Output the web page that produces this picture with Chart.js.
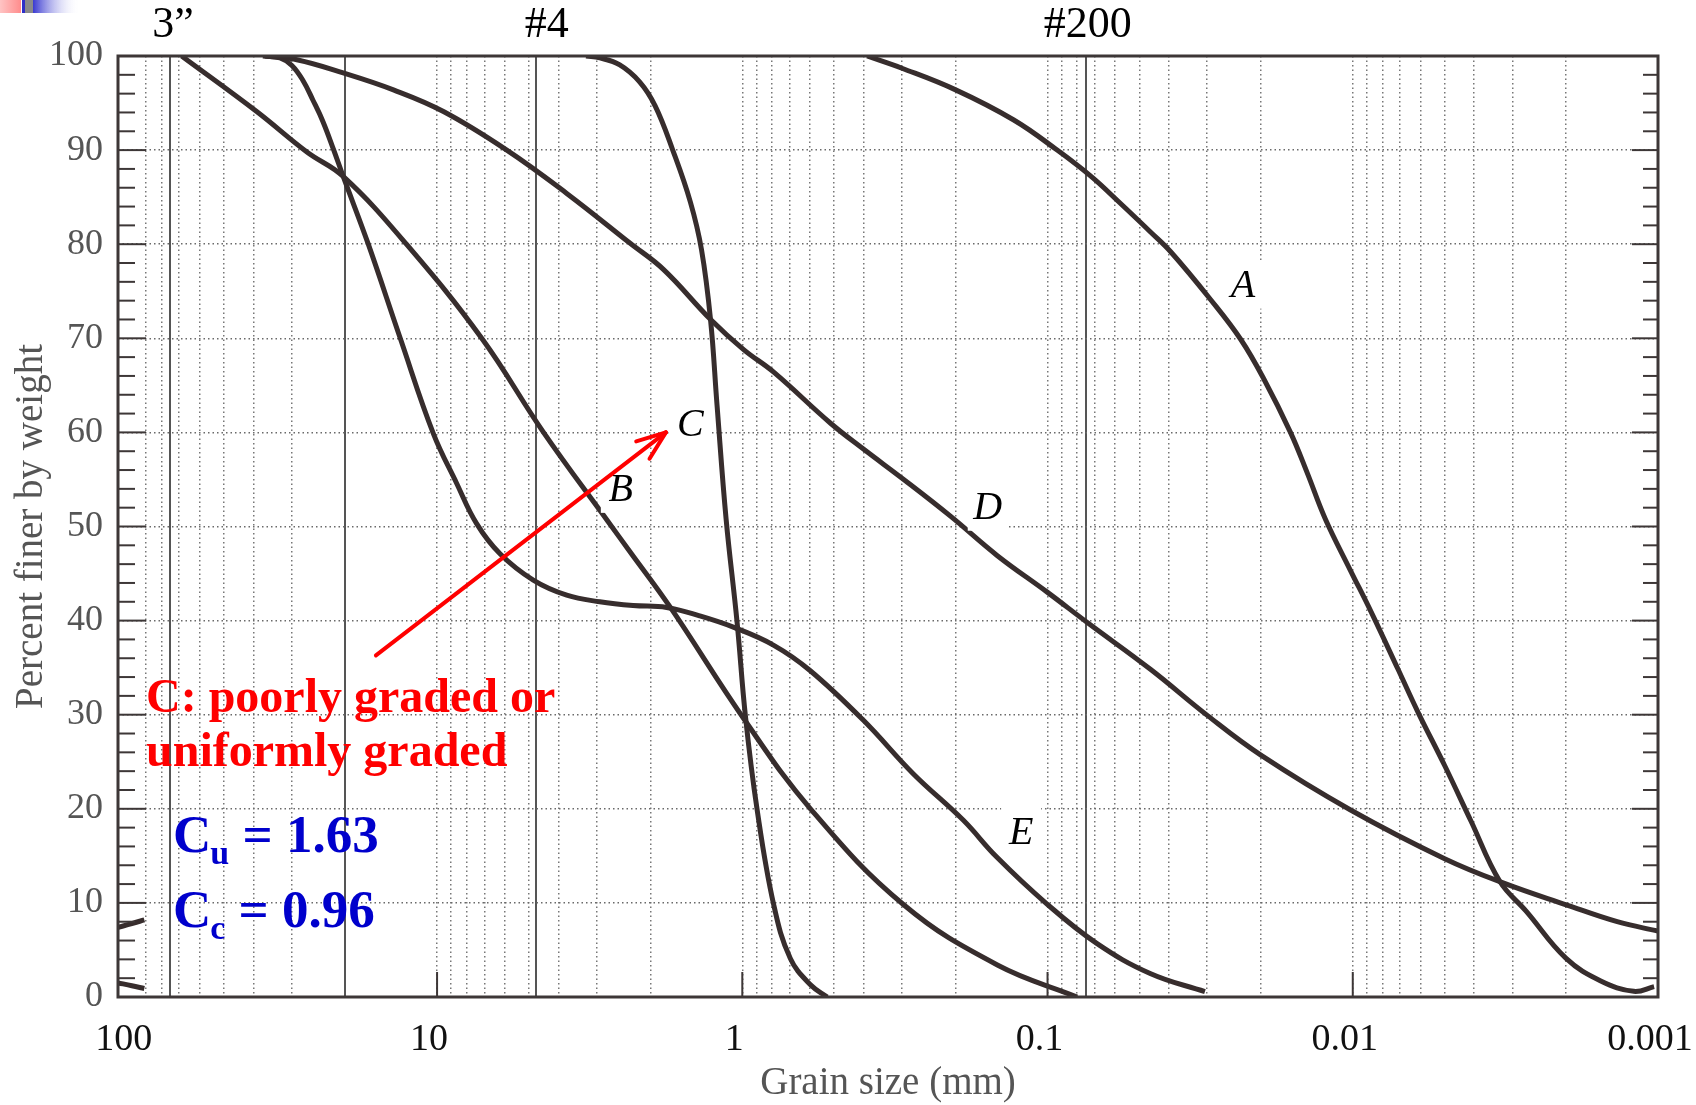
<!DOCTYPE html>
<html lang="en">
<head>
<meta charset="UTF-8">
<title>Grain size distribution</title>
<script src="https://cdn.jsdelivr.net/npm/chart.js"></script>
<style>
  body { margin: 0; background: #fff; }
  .wrap { width: 1696px; height: 1105px; position: relative; }
</style>
</head>
<body>
<div class="wrap"><canvas id="gsd"></canvas></div>
<script>
// grain size (mm) and percent finer
const sizeA = [0.39, 0.30, 0.20, 0.129, 0.093, 0.072, 0.058, 0.046, 0.0395, 0.0292, 0.0233, 0.0195, 0.016, 0.0141, 0.0123, 0.0102, 0.0087, 0.0071, 0.0061, 0.0050, 0.0041, 0.0033, 0.0027, 0.0020, 0.00154, 0.0012, 0.00103];
const finerA = [100, 98.7, 96.4, 93.2, 90, 87.2, 84.4, 81.3, 79.2, 74.1, 69.9, 65.6, 60, 55.7, 50.8, 45.4, 40.9, 34.8, 30.2, 24.6, 18.7, 12.3, 9.1, 4.1, 1.7, 0.6, 1.1];

const sizeB = [68.7, 39, 26.7, 20.3, 12.6, 7.14, 4.48, 2.75, 2.33, 1.72, 0.99, 0.598, 0.296, 0.146, 0.080];
const finerB = [100, 94.1, 89.8, 87.2, 80, 70, 60, 50.5, 47.3, 41.4, 29.6, 20, 9.8, 3.4, 0];

const sizeC = [3.25, 2.93, 2.52, 2.17, 1.93, 1.69, 1.48, 1.36, 1.27, 1.21, 1.13, 1.04, 0.977, 0.895, 0.789, 0.696, 0.598, 0.527];
const finerC = [100, 99.8, 99.05, 97.25, 94.7, 90.0, 84.5, 79.4, 71.9, 62.9, 50.8, 39.8, 29.9, 20, 9.8, 4.1, 1.3, 0];

const sizeD = [36.6, 28.8, 20.3, 13.9, 9.53, 5.91, 3.76, 2.33, 1.81, 1.27, 0.99, 0.789, 0.515, 0.40, 0.296, 0.208, 0.146, 0.10, 0.0741, 0.0459, 0.0299, 0.020, 0.0102, 0.0050, 0.0032, 0.0020, 0.00136, 0.001];
const finerD = [100, 99.6, 98.2, 96.4, 94.1, 90, 85.4, 80.1, 77.3, 72.0, 68.8, 66.4, 61, 58.2, 55, 51.1, 46.9, 43, 39.8, 34.8, 29.9, 25.7, 19.9, 14.7, 12.1, 9.8, 8.0, 7.0];

const sizeE = [37.2, 32.7, 29.9, 27.5, 25.5, 23.7, 21.8, 20.3, 16.8, 13.2, 10.29, 8.63, 7.42, 6.22, 4.84, 3.76, 2.93, 2.28, 1.77, 1.38, 1.07, 0.791, 0.600, 0.401, 0.275, 0.189, 0.147, 0.1006, 0.069, 0.0461, 0.0305];
const finerE = [100, 99.8, 99.0, 97.4, 95.3, 93.1, 90.0, 87.2, 80, 70, 59.9, 54.6, 50.3, 47.1, 44.3, 42.7, 42.0, 41.6, 41.4, 40.5, 39.3, 37.4, 34.7, 29.4, 23.7, 18.8, 14.9, 9.9, 5.7, 2.5, 0.56];

// stray curve ends at the left border of the scan
const sizeEdge = [111, 100, 91];
const finerEdgeHi = [7.4, 7.8, 8.2];
const finerEdgeLo = [1.5, 1.2, 0.9];

const xTickValues = [100, 10, 1, 0.1, 0.01, 0.001];
const xTickLabels = ['100', '10', '1', '0.1', '0.01', '0.001'];
const sieveSizes = [75, 4.75, 0.075];
const sieveLabels = ['3”', '#4', '#200'];
const solidLines = [75, 20, 4.75, 0.075];

const serif = "'Liberation Serif', 'Times New Roman', serif";
const curveColor = '#372d2d';

function same(a, b) { return Math.abs(a - b) <= Math.abs(b) * 1e-6; }
function isSolid(v) { return solidLines.some(s => same(v, s)); }

function curve(sizes, finer) {
    return {
        data: sizes.map((s, i) => ({ x: s, y: finer[i] })),
        showLine: true,
        borderColor: curveColor,
        borderWidth: 5,
        pointRadius: 0,
        tension: 0.4,
        fill: false
    };
}

// frame, inside ticks, curve letters, arrow and notes
const overlay = {
    id: 'overlay',
    afterDatasetsDraw(chart) {
        const { ctx, chartArea: a, scales: { x, y } } = chart;
        const line = (x1, y1, x2, y2) => { ctx.beginPath(); ctx.moveTo(x1, y1); ctx.lineTo(x2, y2); ctx.stroke(); };
        ctx.save();

        ctx.strokeStyle = '#3d3737';
        ctx.lineWidth = 2;
        for (let p = 0; p <= 100; p += 2) {
            const py = y.getPixelForValue(p);
            const major = p % 10 === 0;
            line(a.left, py, a.left + (major ? 28 : 17), py);
            line(a.right - (major ? 26 : 15), py, a.right, py);
        }
        [10, 1, 0.1, 0.01].forEach(v => {
            const px = x.getPixelForValue(v);
            line(px, a.bottom - 25, px, a.bottom);
        });
        ctx.lineWidth = 3;
        ctx.strokeRect(a.left, a.top, a.right - a.left, a.bottom - a.top);

        // curve letters on white patches
        const letters = [
            { t: 'A', d: 0.0229, p: 75.7 },
            { t: 'B', d: 2.50, p: 54.0 },
            { t: 'C', d: 1.48, p: 60.9 },
            { t: 'D', d: 0.157, p: 52.1 },
            { t: 'E', d: 0.122, p: 17.6 }
        ];
        ctx.font = 'italic 40px ' + serif;
        ctx.textAlign = 'center';
        ctx.textBaseline = 'middle';
        letters.forEach(l => {
            const px = x.getPixelForValue(l.d), py = y.getPixelForValue(l.p);
            ctx.fillStyle = '#fff';
            ctx.fillRect(px - 20, py - 24, 40, 48);
            ctx.fillStyle = '#000';
            ctx.fillText(l.t, px, py + 2);
        });

        // red arrow pointing at curve C
        const x0 = x.getPixelForValue(15.86), y0 = y.getPixelForValue(36.3);
        const x1 = x.getPixelForValue(1.78), y1 = y.getPixelForValue(60.0);
        const ang = Math.atan2(y1 - y0, x1 - x0);
        ctx.strokeStyle = '#ff0000';
        ctx.lineWidth = 4;
        ctx.lineCap = 'round';
        line(x0, y0, x1, y1);
        [0.36, -0.36].forEach(da => {
            line(x1, y1, x1 - 31 * Math.cos(ang + da), y1 - 31 * Math.sin(ang + da));
        });

        ctx.textAlign = 'left';
        ctx.textBaseline = 'alphabetic';
        ctx.fillStyle = '#ff0000';
        ctx.font = 'bold 48px ' + serif;
        ctx.fillText('C: poorly graded or', 146, 712);
        ctx.fillText('uniformly graded', 146, 766);

        const coef = (sub, rest, base) => {
            ctx.fillStyle = '#0000cc';
            ctx.font = 'bold 53px ' + serif;
            ctx.fillText('C', 173, base);
            let cx = 173 + ctx.measureText('C').width - 1;
            ctx.font = 'bold 34px ' + serif;
            ctx.fillText(sub, cx, base + 12);
            cx += ctx.measureText(sub).width;
            ctx.font = 'bold 53px ' + serif;
            ctx.fillText(rest, cx, base);
        };
        coef('u', ' = 1.63', 852);
        coef('c', ' = 0.96', 927);
        ctx.restore();
    },
    afterDraw(chart) {
        const { ctx, scales: { x } } = chart;
        ctx.save();
        // sieve names over the top border
        const nudge = [3, 11, 2];
        ctx.fillStyle = '#000';
        ctx.font = '44px ' + serif;
        ctx.textAlign = 'center';
        ctx.textBaseline = 'middle';
        sieveSizes.forEach((s, i) => {
            ctx.fillText(sieveLabels[i], x.getPixelForValue(s) + nudge[i], 25);
        });

        // slide template strip in the top left corner
        let g = ctx.createLinearGradient(0, 0, 21, 0);
        g.addColorStop(0, '#ffc4c4');
        g.addColorStop(1, '#ff8c8c');
        ctx.fillStyle = g;
        ctx.fillRect(0, 0, 21, 13);
        ctx.fillStyle = '#2f2fc8';
        ctx.fillRect(22, 0, 3, 13);
        ctx.fillStyle = '#8a8a8a';
        ctx.fillRect(25, 0, 8, 13);
        g = ctx.createLinearGradient(33, 0, 80, 0);
        g.addColorStop(0, '#3a3ad0');
        g.addColorStop(1, 'rgba(255,255,255,0)');
        ctx.fillStyle = g;
        ctx.fillRect(33, 0, 47, 13);
        ctx.restore();
    }
};

const ctx = document.getElementById('gsd').getContext('2d');

new Chart(ctx, {
    type: 'scatter',
    data: {
        datasets: [
            curve(sizeA, finerA),
            curve(sizeB, finerB),
            curve(sizeC, finerC),
            curve(sizeD, finerD),
            curve(sizeE, finerE),
            curve(sizeEdge, finerEdgeHi),
            curve(sizeEdge, finerEdgeLo)
        ]
    },
    options: {
        responsive: true,
        maintainAspectRatio: false,
        animation: false,
        devicePixelRatio: 1,
        layout: { padding: { top: 56, right: 38, bottom: 0, left: 0 } },
        plugins: {
            legend: { display: false },
            tooltip: { enabled: false }
        },
        scales: {
            x: {
                type: 'logarithmic',
                reverse: true,
                min: 0.001,
                max: 111,
                bounds: 'data',
                afterBuildTicks: (scale) => {
                    const t = [];
                    for (let k = -3; k <= 1; k++) {
                        for (let m = 1; m <= 9; m++) t.push({ value: m * Math.pow(10, k) });
                    }
                    t.push({ value: 100 });
                    solidLines.forEach(v => { if (!t.some(o => same(o.value, v))) t.push({ value: v }); });
                    t.sort((p, q) => p.value - q.value);
                    scale.ticks = t;
                },
                afterFit: (scale) => {
                    scale.height = 108;
                    scale.paddingLeft = 0;
                    scale.paddingRight = 0;
                },
                grid: {
                    drawTicks: false,
                    color: (c) => {
                        const v = c.tick ? c.tick.value : 0;
                        if (v >= 99 || v <= 0.00101) return 'rgba(0,0,0,0)';
                        return isSolid(v) ? '#555' : '#777';
                    },
                    lineWidth: (c) => (c.tick && isSolid(c.tick.value) ? 2 : 1.5)
                },
                border: {
                    display: false,
                    dash: (c) => (c.tick && isSolid(c.tick.value) ? [] : [1.5, 3])
                },
                ticks: {
                    autoSkip: false,
                    maxRotation: 0,
                    minRotation: 0,
                    color: '#111',
                    font: { family: serif, size: 38, lineHeight: 1 },
                    padding: 24,
                    labelOffset: -8,
                    callback: (v) => {
                        const i = xTickValues.findIndex(t => same(v, t));
                        return i >= 0 ? xTickLabels[i] : '';
                    }
                },
                title: {
                    display: true,
                    text: 'Grain size (mm)',
                    color: '#555',
                    font: { family: serif, size: 39, lineHeight: 1 },
                    padding: { top: 0, bottom: 2 }
                }
            },
            y: {
                min: 0,
                max: 100,
                afterFit: (scale) => { scale.width = 118; },
                grid: {
                    drawTicks: false,
                    color: (c) => {
                        const v = c.tick ? c.tick.value : 0;
                        return (v <= 0 || v >= 100) ? 'rgba(0,0,0,0)' : '#6a6a6a';
                    },
                    lineWidth: 1.5
                },
                border: { display: false, dash: [1.5, 3] },
                ticks: {
                    stepSize: 10,
                    color: '#555',
                    font: { family: serif, size: 36 },
                    padding: 15
                },
                title: {
                    display: true,
                    text: 'Percent finer by weight',
                    color: '#555',
                    font: { family: serif, size: 39, lineHeight: 1 },
                    padding: { top: 12, bottom: 0 }
                }
            }
        }
    },
    plugins: [overlay]
});
</script>
</body>
</html>
